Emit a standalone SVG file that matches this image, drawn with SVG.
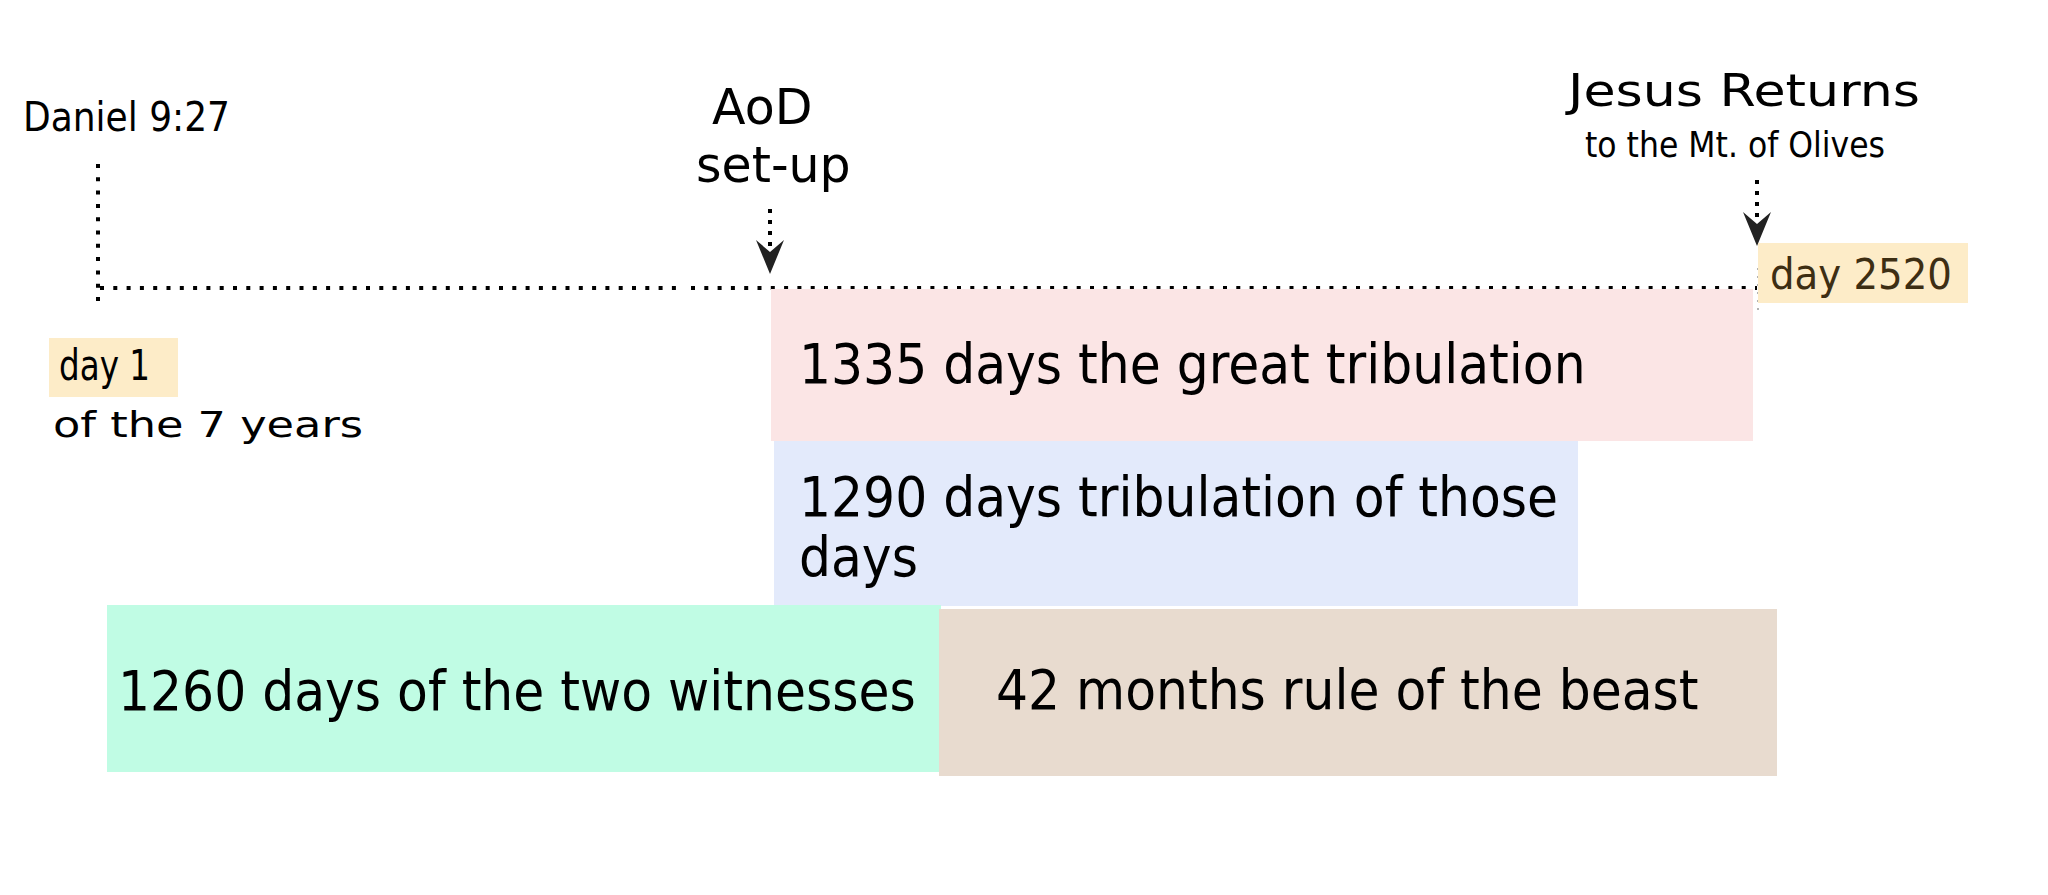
<svg xmlns="http://www.w3.org/2000/svg" width="2048" height="895" viewBox="0 0 2048 895">
  <style>
    .c { font-family: "DejaVu Sans Condensed", "DejaVu Sans", sans-serif; font-stretch: condensed; fill: #000; }
    .n { font-family: "DejaVu Sans", "Liberation Sans", sans-serif; fill: #000; }
    .dot { fill: none; stroke: #000; stroke-width: 4; stroke-dasharray: 4 9.3; }
    .sdot { fill: none; stroke: #000; stroke-width: 4; stroke-dasharray: 4 7; }
    .head { fill: #222; }
  </style>
  <rect width="2048" height="895" fill="#fff"/>

  <g id="connectors">
    <line class="dot" x1="98" y1="164" x2="98" y2="306"/>
    <line class="dot" x1="100" y1="288" x2="678" y2="288"/>
    <line class="dot" x1="691" y1="288" x2="1757" y2="288"/>
    <line x1="1758" y1="268" x2="1758" y2="312" stroke="#999" stroke-width="1.5" stroke-dasharray="2 6"/>
    <line class="sdot" x1="770" y1="209" x2="770" y2="246"/>
    <path class="head" d="M756,240 L770,252 L784,240 L770,274 Z"/>
    <line class="sdot" x1="1757" y1="180" x2="1757" y2="218"/>
    <path class="head" d="M1743,212 L1757,224 L1771,212 L1757,246 Z"/>
  </g>

  <g id="daniel">
    <text class="c" x="23" y="131" font-size="40">Daniel 9:27</text>
  </g>

  <g id="aod">
    <text class="n" x="712" y="124" font-size="49">AoD</text>
    <text class="n" x="696" y="182" font-size="49">set-up</text>
  </g>

  <g id="jesus">
    <text class="n" x="1568" y="106" font-size="45" textLength="352" lengthAdjust="spacingAndGlyphs">Jesus Returns</text>
    <text class="c" x="1585" y="157" font-size="36" textLength="300" lengthAdjust="spacingAndGlyphs">to the Mt. of Olives</text>
  </g>

  <g id="day2520">
    <rect x="1758" y="243" width="210" height="60" fill="#fdecc8"/>
    <text class="c" x="1770" y="289" font-size="43" style="fill:#3d2e13">day 2520</text>
  </g>

  <g id="day1">
    <rect x="49" y="338" width="129" height="59" fill="#fdecc8"/>
    <text class="c" x="59" y="380" font-size="42" textLength="91" lengthAdjust="spacingAndGlyphs">day 1</text>
    <text class="n" x="53" y="437" font-size="35" textLength="310" lengthAdjust="spacingAndGlyphs">of the 7 years</text>
  </g>

  <g id="p1335">
    <rect x="771" y="289" width="982" height="152" fill="#fbe5e5"/>
    <text class="c" x="799" y="383" font-size="56">1335 days the great tribulation</text>
  </g>

  <g id="p1290">
    <rect x="774" y="441" width="804" height="165" fill="#e3eafb"/>
    <text class="c" x="799" y="516" font-size="56">1290 days tribulation of those<tspan x="799" y="576">days</tspan></text>
  </g>

  <g id="p1260">
    <rect x="107" y="605" width="834" height="167" fill="#c0fce4"/>
    <text class="c" x="118" y="710" font-size="56">1260 days of the two witnesses</text>
  </g>

  <g id="p42">
    <rect x="939" y="609" width="838" height="167" fill="#e8dbcf"/>
    <text class="c" x="996" y="709" font-size="56">42 months rule of the beast</text>
  </g>
</svg>
